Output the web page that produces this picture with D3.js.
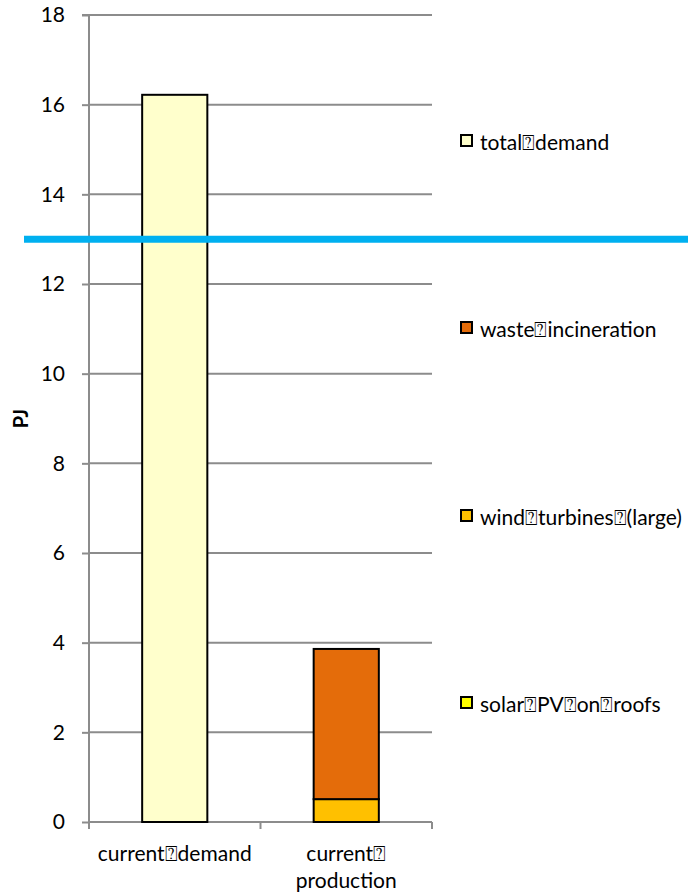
<!DOCTYPE html>
<html>
<head>
<meta charset="utf-8">
<script src="https://cdn.jsdelivr.net/npm/d3@7"></script>
<style>
  body { margin: 0; background: #fff; }
  svg { display: block; font-family: Lato, "Open Sans", sans-serif; }
</style>
</head>
<body>
<svg id="chart" width="688" height="896"></svg>
<script>
// Energy demand vs. current production (PJ)
const categories = ["current\u2370demand", "current\u2370\nproduction"];
const seriesNames = ["solar\u2370PV\u2370on\u2370roofs", "wind\u2370turbines\u2370(large)", "waste\u2370incineration", "total\u2370demand"];
const seriesColors = ["#FFFF00", "#FFC000", "#E46C0A", "#FFFFCC"];
// values per category, in series order
const solarPV = [0, 0];
const windLarge = [0, 0.51];
const wasteIncineration = [0, 3.35];
const totalDemand = [16.22, 0];
const targetLine = 13;
const yTicks = [0, 2, 4, 6, 8, 10, 12, 14, 16, 18];

const svg = d3.select("#chart");
const plotLeft = 89, plotRight = 432, plotTop = 15, plotBottom = 822;
const fontSize = 21;

const x = d3.scaleBand().domain(d3.range(categories.length)).range([plotLeft, plotRight]).paddingInner(0.62).paddingOuter(0.31);
const y = d3.scaleLinear().domain([0, 18]).range([plotBottom, plotTop]);

// gridlines
svg.append("g").selectAll("line").data(yTicks.filter(d => d > 0)).join("line")
  .attr("x1", plotLeft).attr("x2", plotRight)
  .attr("y1", d => y(d)).attr("y2", d => y(d))
  .attr("stroke", "#8c8c8c").attr("stroke-width", 2);

// y axis
const yAxis = d3.axisLeft(y).tickValues(yTicks).tickSize(7).tickPadding(17);
const gy = svg.append("g").attr("transform", `translate(${plotLeft},0)`).call(yAxis);
gy.select(".domain").attr("stroke", "#8c8c8c").attr("stroke-width", 2).attr("d", `M-7,${plotTop}H0V${plotBottom}`);
gy.selectAll(".tick line").attr("stroke", "#8c8c8c").attr("stroke-width", 2);
gy.selectAll(".tick text").attr("font-size", fontSize).attr("fill", "#000").attr("font-family", "Lato, sans-serif");

// x axis with tick marks between categories
const xEdges = [plotLeft, (plotLeft + plotRight) / 2, plotRight];
svg.append("line").attr("x1", plotLeft).attr("x2", plotRight).attr("y1", plotBottom).attr("y2", plotBottom)
  .attr("stroke", "#8c8c8c").attr("stroke-width", 2);
svg.append("g").selectAll("line").data(xEdges).join("line")
  .attr("x1", d => d).attr("x2", d => d).attr("y1", plotBottom).attr("y2", plotBottom + 7)
  .attr("stroke", "#8c8c8c").attr("stroke-width", 2);

// stacked bars
const rows = categories.map((c, i) => ({ i, s0: solarPV[i], s1: windLarge[i], s2: wasteIncineration[i], s3: totalDemand[i] }));
const stack = d3.stack().keys(["s0", "s1", "s2", "s3"]);
const layers = stack(rows);
layers.forEach((layer, k) => {
  svg.append("g").selectAll("rect").data(layer.filter(d => d[1] - d[0] > 0)).join("rect")
    .attr("x", d => x(d.data.i))
    .attr("width", x.bandwidth())
    .attr("y", d => y(d[1]))
    .attr("height", d => y(d[0]) - y(d[1]))
    .attr("fill", seriesColors[k])
    .attr("stroke", "#000").attr("stroke-width", 2);
});

// category labels
const xl = svg.append("g");
categories.forEach((c, i) => {
  const t = xl.append("text").attr("text-anchor", "middle").attr("font-size", fontSize).attr("fill", "#000");
  c.split("\n").forEach((line, j) => {
    t.append("tspan").attr("x", x(i) + x.bandwidth() / 2).attr("y", 861 + j * 27).text(line);
  });
});

// y axis title
svg.append("text").attr("transform", `translate(28,${(plotTop + plotBottom) / 2}) rotate(-90)`)
  .attr("text-anchor", "middle").attr("font-size", 20).attr("font-weight", "bold").text("PJ");

// target line
svg.append("line").attr("x1", 24).attr("x2", 688).attr("y1", y(targetLine)).attr("y2", y(targetLine))
  .attr("stroke", "#00B0F0").attr("stroke-width", 7);

// legend (top to bottom in reverse stacking order)
const legendY = [150, 337, 525, 712];
const lg = svg.append("g");
seriesNames.slice().reverse().forEach((name, j) => {
  const k = seriesNames.length - 1 - j;
  lg.append("rect").attr("x", 461).attr("y", legendY[j] - 15).attr("width", 11).attr("height", 11)
    .attr("fill", seriesColors[k]).attr("stroke", "#000").attr("stroke-width", 2);
  lg.append("text").attr("x", 480).attr("y", legendY[j]).attr("font-size", fontSize).attr("fill", "#000").text(name);
});
</script>
</body>
</html>
